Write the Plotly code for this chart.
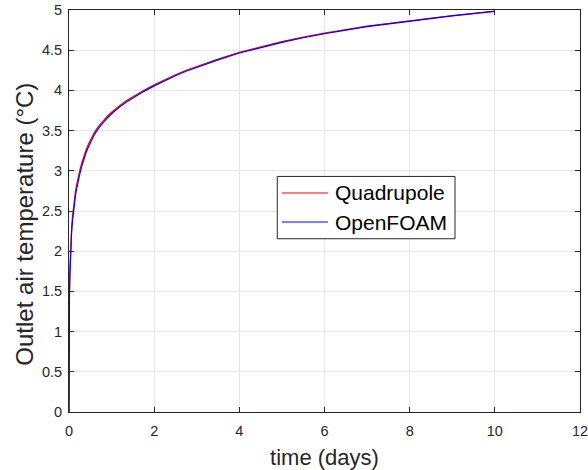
import plotly.graph_objects as go

# time (days)
t_days = [0, 0.0005, 0.002, 0.005, 0.01, 0.02, 0.033, 0.045, 0.06, 0.08, 0.1, 0.125, 0.15, 0.175, 0.2,
          0.25, 0.3, 0.35, 0.4, 0.45, 0.5, 0.6, 0.7, 0.8, 0.9, 1.0, 1.1, 1.2, 1.35, 1.5, 1.65, 1.75,
          2.0, 2.25, 2.5, 2.75, 3.0, 3.5, 4.0, 4.5, 5.0, 5.5, 6.0, 7.0, 8.0, 9.0, 10.0]

# Outlet air temperature (°C)
T_quad = [0, 0.55, 0.95, 1.25, 1.5, 1.76, 2.0, 2.149, 2.287, 2.425, 2.532, 2.645, 2.738, 2.817, 2.885,
          3.0, 3.1, 3.185, 3.259, 3.323, 3.381, 3.482, 3.558, 3.622, 3.679, 3.729, 3.775, 3.817, 3.874,
          3.924, 3.97, 4.0, 4.07, 4.135, 4.195, 4.25, 4.30, 4.39, 4.475, 4.545, 4.607, 4.663, 4.713,
          4.80, 4.868, 4.93, 4.985]

T_foam = [0, 0.42, 0.82, 1.13, 1.39, 1.67, 1.92, 2.079, 2.217, 2.36, 2.47, 2.586, 2.683, 2.764, 2.834,
          2.953, 3.058, 3.147, 3.224, 3.29, 3.35, 3.454, 3.533, 3.599, 3.657, 3.709, 3.756, 3.799, 3.857,
          3.908, 3.955, 3.985, 4.056, 4.122, 4.182, 4.238, 4.288, 4.379, 4.465, 4.536, 4.598, 4.655, 4.705,
          4.793, 4.862, 4.926, 4.982]

series_names = ["Quadrupole", "OpenFOAM"]
series_colors = ["#ff0000", "#0000ff"]

x_ticks = [0, 2, 4, 6, 8, 10, 12]
y_ticks = [0, 0.5, 1, 1.5, 2, 2.5, 3, 3.5, 4, 4.5, 5]
y_tick_text = ["0", "0.5", "1", "1.5", "2", "2.5", "3", "3.5", "4", "4.5", "5"]

FONT = "Liberation Sans, Arial"

fig = go.Figure()
for ty, name, color in zip([T_quad, T_foam], series_names, series_colors):
    fig.add_trace(go.Scatter(x=t_days, y=ty, mode="lines", name=name, showlegend=False,
                             line=dict(color=color, width=1.2)))

# Custom legend box (MATLAB-style, long line samples)
leg_x0, leg_x1, leg_y0, leg_y1 = 0.4076, 0.7554, 0.431, 0.586
fig.add_shape(type="rect", xref="paper", yref="paper", x0=leg_x0, x1=leg_x1, y0=leg_y0, y1=leg_y1,
              line=dict(color="#262626", width=1), fillcolor="white", layer="above")
row_y = [0.5448, 0.4726]
for name, color, ry in zip(series_names, series_colors, row_y):
    fig.add_shape(type="line", xref="paper", yref="paper", x0=0.4168, x1=0.5068, y0=ry, y1=ry,
                  line=dict(color=color, width=1), layer="above")
    fig.add_annotation(xref="paper", yref="paper", x=0.5166, y=ry, xanchor="left", yanchor="middle",
                       text=name, showarrow=False,
                       font=dict(family=FONT, size=21, color="black"))

# y-axis label (as an annotation for exact placement)
fig.add_annotation(xref="paper", yref="paper", x=-0.0861, y=0.466, xanchor="center", yanchor="middle",
                   text="Outlet air temperature (°C)", textangle=-90, showarrow=False,
                   font=dict(family=FONT, size=24, color="#262626"))

axis_common = dict(
    showline=True, linecolor="#262626", linewidth=1, mirror="ticks",
    ticks="inside", ticklen=5, tickcolor="#262626", tickwidth=1,
    showgrid=True, gridcolor="#e6e6e6", gridwidth=1, zeroline=False,
    tickfont=dict(family=FONT, size=14.5, color="#262626"),
    ticklabeloverflow="allow", automargin=False,
)

fig.update_layout(
    width=588, height=470,
    margin=dict(l=69, r=8, t=10, b=58),
    paper_bgcolor="white", plot_bgcolor="white",
    showlegend=False,
    xaxis=dict(range=[0, 12], tickvals=x_ticks, ticktext=[str(v) for v in x_ticks],
               ticklabelstandoff=6,
               title=dict(text="time (days)", standoff=14,
                          font=dict(family=FONT, size=22, color="#262626")),
               **axis_common),
    yaxis=dict(range=[0, 5], tickvals=y_ticks, ticktext=y_tick_text,
               ticklabelstandoff=3,
               **axis_common),
)

fig.write_html("out.html")
